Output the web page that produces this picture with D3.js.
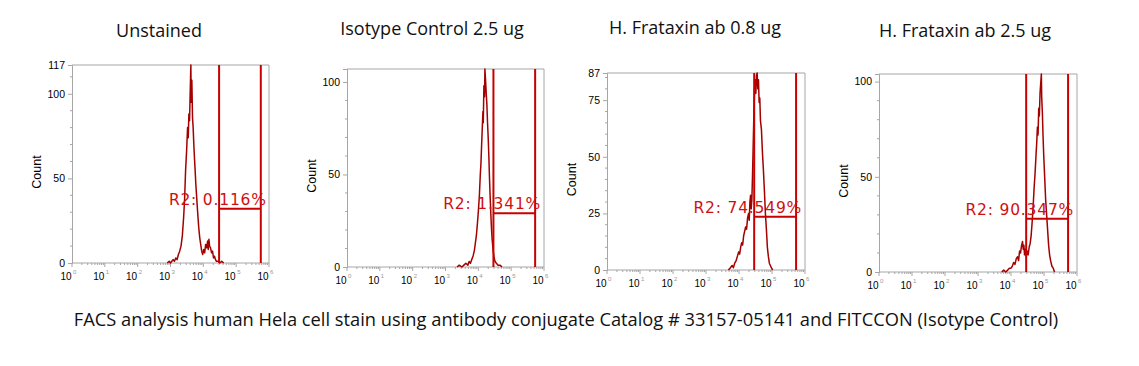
<!DOCTYPE html>
<html><head><meta charset="utf-8">
<script src="https://cdn.jsdelivr.net/npm/d3@7"></script>
<style>body{margin:0;background:#fff}svg{display:block}</style>
</head><body>
<svg id="chart" width="1139" height="366"></svg>
<script>
// ---------- data ----------
const panelTitles = ["Unstained", "Isotype Control 2.5 ug", "H. Frataxin ab 0.8 ug", "H. Frataxin ab 2.5 ug"];
const yMaxValues = [117, 107, 87, 104];
const yTickLabels = [[0, 50, 100, 117], [0, 50, 100], [0, 25, 50, 75, 87], [0, 50, 100]];
const yMinorStep = [10, 10, 5, 10];
const xDecades = [0, 1, 2, 3, 4, 5, 6];
const gateLow = [4.48, 4.46, 4.46, 4.46];     // log10 of gate start
const gateHigh = [5.75, 5.73, 5.73, 5.73];    // log10 of gate end
const gateLevel = [32, 29, 23.5, 28];         // count level of gate bar
const gateLabels = ["R2: 0.116%", "R2: 1.341%", "R2: 74.549%", "R2: 90.347%"];
const caption = "FACS analysis human Hela cell stain using antibody conjugate Catalog # 33157-05141 and FITCCON (Isotype Control)";

// histograms: [log10 fluorescence, count]
const histUnstained = [[2.90,0],[2.96,1],[3.00,0],[3.04,1],[3.08,2],[3.12,1],[3.16,3],[3.20,2],[3.24,5],[3.28,7],[3.32,10],[3.36,16],[3.40,27],[3.43,38],[3.46,55],[3.49,66],[3.52,80],[3.54,74],[3.56,88],[3.58,84],[3.60,101],[3.62,117],[3.63,95],[3.65,108],[3.67,86],[3.69,80],[3.71,70],[3.73,62],[3.75,55],[3.77,47],[3.80,38],[3.83,29],[3.86,21],[3.89,15],[3.92,11],[3.95,7],[3.98,5],[4.01,8],[4.04,6],[4.07,11],[4.10,9],[4.13,13],[4.15,8],[4.17,14],[4.19,10],[4.22,9],[4.25,6],[4.28,7],[4.31,3],[4.34,4],[4.37,2],[4.40,1],[4.45,1],[4.50,0],[4.56,1],[4.62,0]];
const histIsotype = [[3.35,0],[3.42,1],[3.50,0],[3.56,1],[3.62,2],[3.68,1],[3.72,3],[3.76,2],[3.80,4],[3.84,6],[3.88,9],[3.91,13],[3.94,17],[3.97,23],[4.00,30],[4.03,38],[4.06,50],[4.08,56],[4.10,66],[4.12,75],[4.14,84],[4.15,78],[4.17,98],[4.19,92],[4.20,107],[4.22,101],[4.24,94],[4.26,88],[4.28,78],[4.30,70],[4.32,60],[4.34,48],[4.36,38],[4.38,29],[4.40,21],[4.42,15],[4.45,9],[4.48,5],[4.51,3],[4.55,2],[4.60,1],[4.66,1],[4.72,0]];
const histFrataxin08 = [[3.68,0],[3.74,1],[3.79,2],[3.83,1],[3.87,3],[3.91,4],[3.95,6],[3.99,8],[4.02,7],[4.05,10],[4.08,12],[4.11,11],[4.14,15],[4.17,17],[4.20,19],[4.23,18],[4.26,23],[4.29,25],[4.31,22],[4.33,30],[4.35,33],[4.37,27],[4.39,31],[4.41,42],[4.43,55],[4.45,68],[4.47,79],[4.49,84],[4.51,78],[4.53,86],[4.55,87],[4.57,80],[4.59,84],[4.61,74],[4.63,76],[4.65,66],[4.68,62],[4.71,52],[4.74,44],[4.77,35],[4.80,25],[4.83,18],[4.86,10],[4.89,6],[4.92,3],[4.95,2],[4.98,1],[5.02,0]];
const histFrataxin25 = [[3.72,0],[3.78,1],[3.84,0],[3.90,1],[3.95,2],[4.00,2],[4.04,3],[4.08,5],[4.12,4],[4.16,7],[4.20,8],[4.23,6],[4.26,11],[4.29,10],[4.32,14],[4.35,16],[4.37,12],[4.39,14],[4.41,9],[4.43,12],[4.46,8],[4.49,11],[4.52,9],[4.55,13],[4.58,15],[4.61,19],[4.64,26],[4.67,34],[4.70,44],[4.73,52],[4.76,62],[4.78,68],[4.80,76],[4.82,72],[4.84,86],[4.86,82],[4.88,94],[4.90,99],[4.92,104],[4.93,92],[4.95,84],[4.97,72],[4.99,62],[5.02,50],[5.05,38],[5.08,30],[5.11,22],[5.14,14],[5.17,9],[5.20,6],[5.24,3],[5.28,2],[5.32,0]];
const histograms = [histUnstained, histIsotype, histFrataxin08, histFrataxin25];

// ---------- layout ----------
const boxes = [
  {l: 72, r: 269, t: 65, b: 263, titleX: 159, titleY: 37},
  {l: 347, r: 544, t: 69, b: 267, titleX: 432, titleY: 35},
  {l: 607, r: 805, t: 73, b: 270, titleX: 695, titleY: 34},
  {l: 879, r: 1077, t: 74, b: 272, titleX: 965, titleY: 37}
];
const axisColor = "#a6a6a6";
const histColor = "#a30000";
const gateColor = "#c80000";
const labelColor = "#d01010";

const svg = d3.select("#chart");
svg.append("rect").attr("width", 1139).attr("height", 366).attr("fill", "#fff");

boxes.forEach((bx, i) => {
  const x = d3.scaleLinear().domain([0, 6]).range([bx.l, bx.r]);
  const y = d3.scaleLinear().domain([0, yMaxValues[i]]).range([bx.b, bx.t]);
  const g = svg.append("g");

  // title
  svg.append("text").attr("x", bx.titleX).attr("y", bx.titleY)
    .attr("text-anchor", "middle").attr("font-family", "Open Sans, sans-serif")
    .attr("font-size", 18).attr("fill", "#111").text(panelTitles[i]);

  // box (top and right)
  g.append("path").attr("d", `M${bx.l},${bx.t}H${bx.r}V${bx.b}`)
    .attr("fill", "none").attr("stroke", axisColor).attr("stroke-width", 1);

  // y axis
  const yAxis = d3.axisLeft(y).tickValues(yTickLabels[i]).tickSize(4).tickPadding(3)
    .tickFormat(d3.format("d"));
  const ya = g.append("g").attr("transform", `translate(${bx.l},0)`).call(yAxis);
  ya.select(".domain").attr("stroke", axisColor);
  ya.selectAll(".tick line").attr("stroke", axisColor);
  ya.selectAll(".tick text").attr("font-family", "Liberation Sans, Arial, sans-serif")
    .attr("font-size", 10.5).attr("fill", "#000");
  const minorY = d3.range(0, yMaxValues[i] + 0.01, yMinorStep[i]).filter(v => !yTickLabels[i].includes(v));
  g.selectAll(".ymin").data(minorY).join("line")
    .attr("x1", bx.l - 2).attr("x2", bx.l).attr("y1", d => y(d)).attr("y2", d => y(d))
    .attr("stroke", axisColor);

  // y label
  g.append("text").attr("transform", `translate(${bx.l - 31},${(bx.t + bx.b) / 2 + 8}) rotate(-90)`)
    .attr("text-anchor", "middle").attr("font-family", "Liberation Sans, Arial, sans-serif")
    .attr("font-size", 12.5).attr("fill", "#000").text("Count");

  // x axis
  g.append("line").attr("x1", bx.l).attr("x2", bx.r).attr("y1", bx.b).attr("y2", bx.b).attr("stroke", axisColor);
  const minorX = [];
  xDecades.slice(0, -1).forEach(d => { for (let k = 2; k <= 9; k++) minorX.push(d + Math.log10(k)); });
  g.selectAll(".xmin").data(minorX).join("line")
    .attr("x1", d => x(d)).attr("x2", d => x(d)).attr("y1", bx.b).attr("y2", bx.b + 2)
    .attr("stroke", axisColor);
  const xt = g.selectAll(".xmaj").data(xDecades).join("g").attr("transform", d => `translate(${x(d)},${bx.b})`);
  xt.append("line").attr("y2", 4).attr("stroke", axisColor);
  xt.append("text").attr("x", -0.5).attr("y", 17).attr("text-anchor", "end")
    .attr("font-family", "Liberation Sans, Arial, sans-serif").attr("font-size", 10).attr("fill", "#000").text("10");
  xt.append("text").attr("x", 1).attr("y", 11).attr("text-anchor", "start")
    .attr("font-family", "Liberation Sans, Arial, sans-serif").attr("font-size", 6).attr("fill", "#999").text(d => d);

  // histogram
  const line = d3.line().x(d => x(d[0])).y(d => y(d[1]));
  g.append("path").datum(histograms[i]).attr("d", line)
    .attr("fill", "none").attr("stroke", histColor).attr("stroke-width", 1.5).attr("stroke-linejoin", "round");

  // gate
  [gateLow[i], gateHigh[i]].forEach(v => {
    g.append("line").attr("x1", x(v)).attr("x2", x(v)).attr("y1", bx.t).attr("y2", bx.b)
      .attr("stroke", gateColor).attr("stroke-width", 2);
  });
  g.append("line").attr("x1", x(gateLow[i])).attr("x2", x(gateHigh[i]))
    .attr("y1", y(gateLevel[i])).attr("y2", y(gateLevel[i]))
    .attr("stroke", gateColor).attr("stroke-width", 2);
  g.append("text").attr("x", x(gateHigh[i]) + 6).attr("y", y(gateLevel[i]) - 4)
    .attr("text-anchor", "end").attr("font-family", "DejaVu Sans, Verdana, sans-serif")
    .attr("font-size", 15.5).attr("letter-spacing", 0.8).attr("fill", labelColor).text(gateLabels[i]);
});

svg.append("text").attr("x", 566).attr("y", 326).attr("text-anchor", "middle")
  .attr("font-family", "Open Sans, sans-serif").attr("font-size", 18.3).attr("fill", "#111").text(caption);
</script>
</body></html>
